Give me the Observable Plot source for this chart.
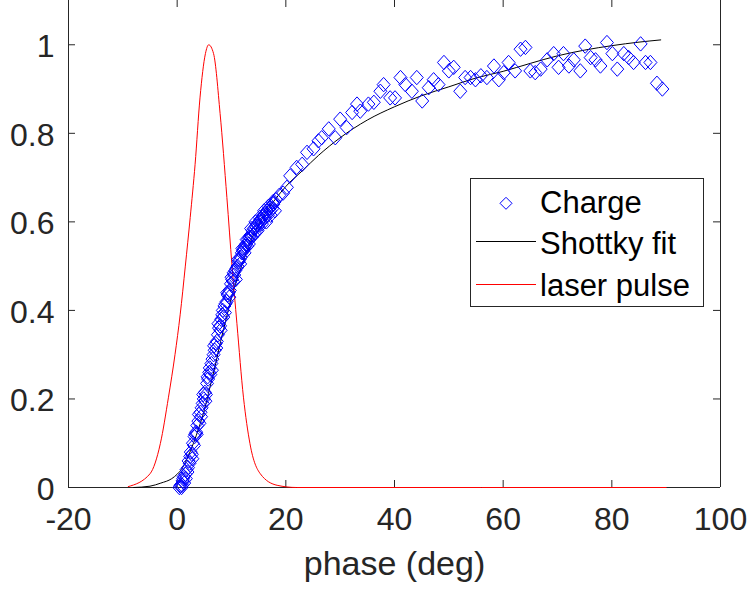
<!DOCTYPE html>
<html>
<head>
<meta charset="utf-8">
<script src="https://cdn.jsdelivr.net/npm/d3@7"></script>
<script src="https://cdn.jsdelivr.net/npm/@observablehq/plot@0.6"></script>
<style>
  html, body { margin: 0; padding: 0; background: white; }
  #chart { width: 748px; height: 590px; overflow: hidden; }
</style>
</head>
<body>
<div id="chart"></div>
<script>
// ---- data ----
const xTicks = [-20, 0, 20, 40, 60, 80, 100];
const xTickLabels = ["-20", "0", "20", "40", "60", "80", "100"];
const yTicks = [0, 0.2, 0.4, 0.6, 0.8, 1];
const yTickLabels = ["0", "0.2", "0.4", "0.6", "0.8", "1"];

const chargeX = [
  0.4, 0.6, 0.8, 1.0, 1.1, 1.3, 1.5, 1.7, 1.9, 2.1, 2.3, 2.5, 2.7, 2.9, 3.1, 3.3, 3.5, 3.7, 3.9, 4.1,
  4.3, 4.5, 4.7, 4.9, 5.1, 5.3, 5.5, 5.7, 5.9, 6.1, 6.3, 6.5, 6.7, 6.9, 7.1, 7.3, 7.5, 7.7, 7.9, 8.1,
  8.3, 8.5, 8.7, 8.9, 9.1, 9.3, 9.5, 9.7, 9.9, 10.1, 10.3, 10.5, 10.7, 10.9, 11.1, 11.3, 11.5, 11.7, 11.9, 12.1,
  12.3, 12.5, 12.7, 12.9, 13.1, 13.3, 13.5, 13.7, 13.9, 14.1, 14.3, 14.5, 14.7, 14.9, 15.1, 15.3, 15.5, 15.7, 15.9, 16.1,
  16.3, 16.5, 16.7, 16.9, 17.1, 17.3, 17.5, 17.7, 17.9, 18.2,
  0.9, 1.2, 1.6, 2.0, 2.4, 2.8, 3.2, 3.6, 4.0, 4.4, 4.8, 5.2, 5.6, 6.0, 6.4, 6.8, 7.2, 7.6, 8.0, 8.4,
  8.8, 9.2, 9.6, 10.0, 10.4, 10.8, 11.2, 11.6, 12.0, 12.4, 12.8, 13.2, 13.6, 14.0, 14.4, 14.8, 15.2, 15.6, 16.0, 16.4,
  16.8, 17.2, 17.6, 18.0,
  18.8, 19.5, 20.2, 20.8, 22.0, 23.0, 23.9, 25.1, 26.0, 26.6, 27.9, 29.1, 30.0, 31.2, 32.2, 33.1, 33.7, 35.2, 36.2, 37.4,
  38.0, 39.2, 40.1, 41.1, 42.0, 43.2, 44.1, 45.1, 46.3, 47.2, 48.1, 49.1, 50.0, 50.9, 52.1, 53.0, 54.0, 54.9, 55.9, 57.0,
  58.3, 59.2, 60.1, 61.0, 62.2, 63.2, 64.1, 65.0, 65.9, 66.9, 68.1, 69.3, 70.2, 71.1, 72.1, 73.0, 74.2, 75.1, 76.1, 77.0,
  77.9, 79.1, 80.1, 81.0, 82.2, 83.1, 84.0, 85.3, 86.2, 87.1, 88.3, 89.3
];
const chargeY = [
  0.0, 0.005, 0.0, 0.015, 0.02, 0.01, 0.03, 0.04, 0.035, 0.06, 0.055, 0.08, 0.075, 0.1, 0.095, 0.12, 0.125, 0.14, 0.15, 0.145,
  0.17, 0.18, 0.19, 0.2, 0.215, 0.21, 0.235, 0.245, 0.26, 0.255, 0.28, 0.29, 0.3, 0.31, 0.325, 0.33, 0.345, 0.36, 0.365, 0.38,
  0.39, 0.385, 0.41, 0.415, 0.42, 0.435, 0.44, 0.445, 0.46, 0.47, 0.465, 0.48, 0.49, 0.495, 0.5, 0.51, 0.515, 0.52, 0.53, 0.535,
  0.54, 0.545, 0.55, 0.545, 0.56, 0.565, 0.57, 0.565, 0.58, 0.585, 0.575, 0.59, 0.595, 0.59, 0.6, 0.605, 0.6, 0.61, 0.615, 0.61,
  0.62, 0.625, 0.615, 0.63, 0.625, 0.635, 0.63, 0.64, 0.645, 0.65,
  0.005, 0.025, 0.02, 0.045, 0.07, 0.065, 0.115, 0.12, 0.165, 0.16, 0.21, 0.195, 0.25, 0.27, 0.265, 0.32, 0.315, 0.37, 0.355, 0.4,
  0.395, 0.44, 0.43, 0.475, 0.485, 0.47, 0.515, 0.505, 0.54, 0.53, 0.56, 0.55, 0.585, 0.57, 0.6, 0.58, 0.61, 0.595, 0.625, 0.6,
  0.635, 0.615, 0.645, 0.625,
  0.66, 0.665, 0.678, 0.704, 0.723, 0.73, 0.757, 0.765, 0.783, 0.79, 0.81, 0.79, 0.832, 0.813, 0.847, 0.866, 0.85, 0.866, 0.87, 0.895,
  0.91, 0.88, 0.88, 0.926, 0.91, 0.895, 0.926, 0.873, 0.903, 0.921, 0.91, 0.96, 0.941, 0.949, 0.895, 0.926, 0.926, 0.921, 0.93, 0.926,
  0.952, 0.921, 0.937, 0.96, 0.941, 0.99, 0.994, 0.941, 0.937, 0.945, 0.966, 0.98, 0.949, 0.98, 0.952, 0.966, 0.941, 0.997, 0.971, 0.966,
  0.952, 1.005, 0.98, 0.945, 0.98, 0.971, 0.96, 1.002, 0.96, 0.96, 0.913, 0.90
];

const fitX = [-8, -5, -3, -1, 0, 1, 2, 3, 4, 5, 6, 7, 8, 9, 10, 11, 12, 13, 14, 16, 18, 20, 23, 26, 30, 35, 40, 45, 50, 55, 60, 65, 70, 75, 80, 85, 89];
const fitY = [0, 0.003, 0.01, 0.02, 0.03, 0.045, 0.07, 0.1, 0.135, 0.175, 0.225, 0.275, 0.33, 0.38, 0.43, 0.47, 0.505, 0.54, 0.57, 0.615, 0.65, 0.68, 0.715, 0.75, 0.79, 0.83, 0.86, 0.885, 0.905, 0.925, 0.94, 0.958, 0.975, 0.988, 0.998, 1.006, 1.011];

const laserX = [-9, -5, -3.1, -1.6, -0.4, 0.55, 1.5, 2.4, 3.3, 4.2, 5.2, 5.8, 6.7, 7.9, 9.15, 10.1, 11, 12.2, 13.4, 15.3, 18.4, 22, 90];
const laserY = [0.002, 0.031, 0.099, 0.204, 0.30, 0.39, 0.5, 0.61, 0.73, 0.88, 0.98, 1.0, 0.98, 0.845, 0.655, 0.5, 0.37, 0.204, 0.099, 0.031, 0.005, 0, 0];

const seriesNames = ["Charge", "Shottky fit", "laser pulse"];
const xLabel = "phase (deg)";

// ---- build tables ----
const charge = chargeX.map((x, i) => ({x, y: chargeY[i]}));
const fit = fitX.map((x, i) => ({x, y: fitY[i]}));
const laser = laserX.map((x, i) => ({x, y: laserY[i]}));

const axisColor = "#262626";
const fontFamily = "'Liberation Sans', Arial, sans-serif";
const diamond = {
  draw(ctx) {
    const w = 6.5, h = 7.2;
    ctx.moveTo(0, -h); ctx.lineTo(w, 0); ctx.lineTo(0, h); ctx.lineTo(-w, 0); ctx.closePath();
  }
};

const W = 748, H = 590, mL = 68, mR = 28, mT = 0, mB = 103;
const innerW = W - mL - mR, innerH = H - mT - mB;
const tickLen = 7;

const chart = Plot.plot({
  width: W, height: H,
  marginLeft: mL, marginRight: mR, marginTop: mT, marginBottom: mB,
  x: {domain: [-20, 100]},
  y: {domain: [0, 1.1]},
  style: {fontFamily, fontSize: "32px", color: axisColor, background: "white"},
  marks: [
    Plot.ruleX([-20, 100], {stroke: axisColor, strokeWidth: 1}),
    Plot.ruleY([0], {stroke: axisColor, strokeWidth: 1}),
    Plot.tickX(xTicks, {x: d => d, insetTop: innerH - tickLen, stroke: axisColor}),
    Plot.tickX(xTicks, {x: d => d, insetBottom: innerH - tickLen, stroke: axisColor}),
    Plot.tickY(yTicks, {y: d => d, insetRight: innerW - tickLen, stroke: axisColor}),
    Plot.tickY(yTicks, {y: d => d, insetLeft: innerW - tickLen, stroke: axisColor}),
    Plot.axisX({ticks: xTicks, tickSize: 0, tickPadding: 20, fontSize: 32, label: null,
      tickFormat: d => xTickLabels[xTicks.indexOf(d)]}),
    Plot.axisY({ticks: yTicks, tickSize: 0, tickPadding: 14, fontSize: 32, label: null, dy: 2,
      tickFormat: d => yTickLabels[yTicks.indexOf(d)]}),
    Plot.text([xLabel], {frameAnchor: "bottom", lineAnchor: "middle", dy: 77, fontSize: 34, fill: axisColor}),
    Plot.line(fit, {x: "x", y: "y", stroke: "#000000", strokeWidth: 1, curve: "monotone-x"}),
    Plot.line(laser, {x: "x", y: "y", stroke: "#ff0000", strokeWidth: 1, curve: "monotone-x"}),
    Plot.dot(charge, {x: "x", y: "y", symbol: diamond, stroke: "#0000ff", strokeWidth: 1, fill: "none", r: 5})
  ]
});

document.getElementById("chart").appendChild(chart);

// ---- legend ----
const svg = d3.select(chart);
const lg = svg.append("g")
  .attr("font-family", fontFamily).attr("font-size", 31)
  .attr("fill", "#000").attr("text-anchor", "start");
lg.append("rect").attr("x", 470.5).attr("y", 178.5).attr("width", 233).attr("height", 128)
  .attr("fill", "white").attr("stroke", axisColor).attr("stroke-width", 1);
lg.append("path").attr("d", "M506,197.3L512,203.3L506,209.3L500,203.3Z").attr("fill", "none").attr("stroke", "#0000ff");
lg.append("line").attr("x1", 476).attr("x2", 536).attr("y1", 241.5).attr("y2", 241.5).attr("stroke", "#000");
lg.append("line").attr("x1", 476).attr("x2", 536).attr("y1", 284.5).attr("y2", 284.5).attr("stroke", "#ff0000");
const baselines = [213, 254, 296];
seriesNames.forEach((s, i) => lg.append("text").attr("x", 540).attr("y", baselines[i]).attr("text-anchor", "start").text(s));
</script>
</body>
</html>
